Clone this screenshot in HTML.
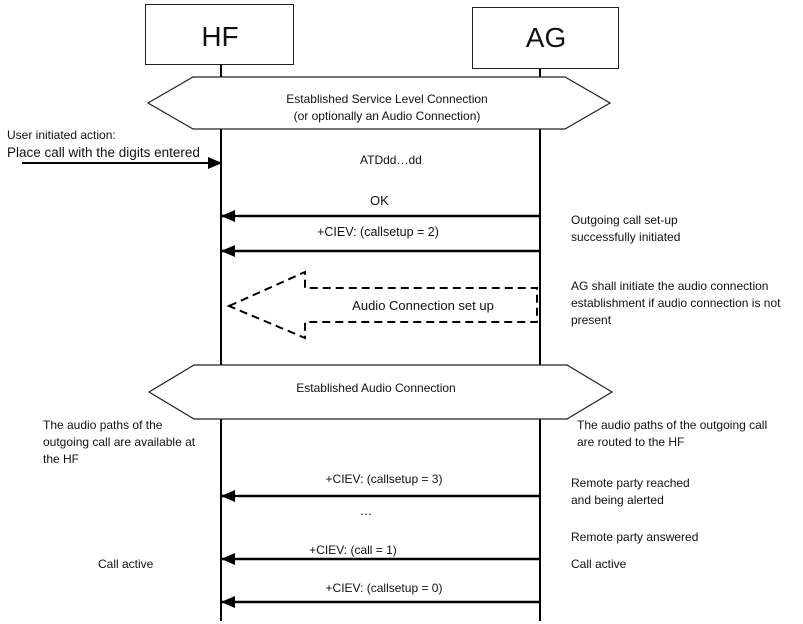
<!DOCTYPE html>
<html><head><meta charset="utf-8"><style>
html,body{margin:0;padding:0;background:#fff;width:803px;height:624px;overflow:hidden}
svg{display:block}
text{font-family:"Liberation Sans",sans-serif;fill:#111}
</style></head><body>
<svg width="803" height="624" viewBox="0 0 803 624" xmlns="http://www.w3.org/2000/svg">
<defs>
<marker id="ah" markerWidth="14" markerHeight="12" refX="13" refY="6" orient="auto" markerUnits="userSpaceOnUse">
<path d="M0,0 L14,6 L0,12 z" fill="#000"/></marker>
</defs>
<!-- lifelines -->
<line x1="221" y1="64" x2="221" y2="621" stroke="#000" stroke-width="2"/>
<line x1="540" y1="68" x2="540" y2="621" stroke="#000" stroke-width="2"/>
<!-- boxes -->
<rect x="145.5" y="4.5" width="148" height="60" fill="#fff" stroke="#222"/>
<text x="220" y="46" font-size="28" text-anchor="middle">HF</text>
<rect x="472.5" y="7.5" width="146" height="61" fill="#fff" stroke="#222"/>
<text x="546" y="47" font-size="28" text-anchor="middle">AG</text>
<!-- hexagon 1 -->
<polygon points="148,103 193,77 565,77 610,103 565,129 193,129" fill="#fff" stroke="#222" stroke-width="1.2"/>
<text x="387" y="103" font-size="12" text-anchor="middle">Established Service Level Connection</text>
<text x="387" y="120" font-size="12" text-anchor="middle">(or optionally an Audio Connection)</text>
<!-- user action -->
<text x="7" y="139" font-size="12">User initiated action:</text>
<text x="7" y="157" font-size="13.5">Place call with the digits entered</text>
<line x1="22" y1="163" x2="221" y2="163" stroke="#000" stroke-width="2" marker-end="url(#ah)"/>
<text x="360" y="164" font-size="12">ATDdd…dd</text>
<!-- OK -->
<text x="370" y="205" font-size="13">OK</text>
<line x1="540" y1="216" x2="222" y2="216" stroke="#000" stroke-width="2.5" marker-end="url(#ah)"/>
<text x="378" y="236" font-size="12.5" text-anchor="middle">+CIEV: (callsetup = 2)</text>
<line x1="540" y1="251" x2="222" y2="251" stroke="#000" stroke-width="2.5" marker-end="url(#ah)"/>
<text x="571" y="224" font-size="12">Outgoing call set-up</text>
<text x="571" y="241" font-size="12">successfully initiated</text>
<!-- dashed arrow -->
<polygon points="229,306 305,272 305,288 537,288 537,322 305,322 305,338" fill="none" stroke="#000" stroke-width="2" stroke-dasharray="8,5"/>
<text x="423" y="310" font-size="13" text-anchor="middle">Audio Connection set up</text>
<text x="571" y="290" font-size="12">AG shall initiate the audio connection</text>
<text x="571" y="307" font-size="12">establishment if audio connection is not</text>
<text x="571" y="324" font-size="12">present</text>
<!-- hexagon 2 -->
<polygon points="149,392 194,365 567,365 612,392 567,419 194,419" fill="#fff" stroke="#222" stroke-width="1.2"/>
<text x="376" y="392" font-size="12" text-anchor="middle">Established Audio Connection</text>
<text x="43" y="429" font-size="12">The audio paths of the</text>
<text x="43" y="446" font-size="12">outgoing call are available at</text>
<text x="43" y="463" font-size="12">the HF</text>
<text x="577" y="429" font-size="12">The audio paths of the outgoing call</text>
<text x="577" y="446" font-size="12">are routed to the HF</text>
<!-- lower messages -->
<text x="384" y="483" font-size="12" text-anchor="middle">+CIEV: (callsetup = 3)</text>
<line x1="540" y1="496" x2="222" y2="496" stroke="#000" stroke-width="2.5" marker-end="url(#ah)"/>
<text x="366" y="515" font-size="13" text-anchor="middle">…</text>
<text x="353" y="554" font-size="12" text-anchor="middle">+CIEV: (call = 1)</text>
<line x1="540" y1="559" x2="222" y2="559" stroke="#000" stroke-width="2.5" marker-end="url(#ah)"/>
<text x="384" y="592" font-size="12" text-anchor="middle">+CIEV: (callsetup = 0)</text>
<line x1="540" y1="602" x2="222" y2="602" stroke="#000" stroke-width="2.5" marker-end="url(#ah)"/>
<text x="571" y="487" font-size="12">Remote party reached</text>
<text x="571" y="504" font-size="12">and being alerted</text>
<text x="571" y="541" font-size="12">Remote party answered</text>
<text x="571" y="568" font-size="12">Call active</text>
<text x="98" y="568" font-size="12">Call active</text>
</svg>
</body></html>
